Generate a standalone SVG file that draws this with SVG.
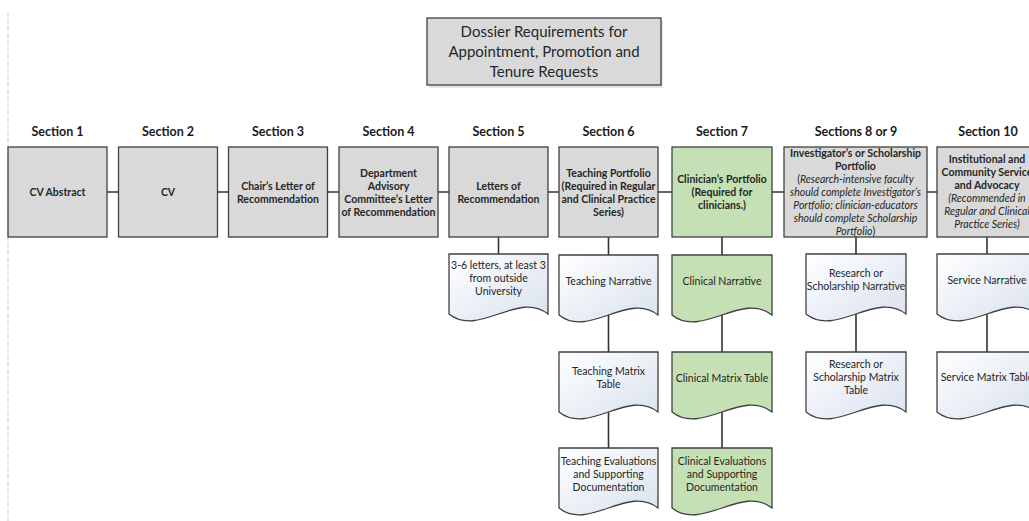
<svg xmlns="http://www.w3.org/2000/svg" width="1029" height="521" viewBox="0 0 1029 521">
<defs>
<linearGradient id="docg" x1="0" y1="0" x2="1" y2="1">
<stop offset="0" stop-color="#ffffff"/>
<stop offset="1" stop-color="#d9e1ee"/>
</linearGradient>
<style>
.box{fill:#d9d9d9;stroke:#404040;stroke-width:1.3}
.green{fill:#c5e0b4;stroke:#404040;stroke-width:1.3}
.doc{fill:url(#docg);stroke:#404040;stroke-width:1.3}
.gdoc{fill:#c5e0b4;stroke:#404040;stroke-width:1.3}
.shadow{fill:#dfe7f2}
.conn{stroke:#333333;stroke-width:1.6;fill:none}
.sec{font-family:Lato,"Liberation Sans",sans-serif;font-size:12.5px;font-weight:bold;fill:#1a1a1a;text-anchor:middle}
.bt{font-family:Lato,"Liberation Sans",sans-serif;font-size:10.5px;font-weight:bold;fill:#262626;text-anchor:middle}
.it{font-family:Lato,"Liberation Sans",sans-serif;font-size:10.5px;font-style:italic;fill:#262626;text-anchor:middle}
.dt{font-family:Lato,"Liberation Sans",sans-serif;font-size:10.5px;fill:#262626;text-anchor:middle}
.tt{font-family:Lato,"Liberation Sans",sans-serif;font-size:15px;fill:#262626;text-anchor:middle}
</style>
</defs>
<rect width="1029" height="521" fill="#ffffff"/>
<line x1="8" y1="12" x2="8" y2="521" stroke="#cfcfcf" stroke-width="1" stroke-dasharray="5 2"/>

<g id="connectors">
<line class="conn" x1="107" y1="192" x2="937" y2="192"/>
<line class="conn" x1="498.5" y1="237" x2="498.5" y2="254"/>
<line class="conn" x1="608.5" y1="237" x2="608.5" y2="448"/>
<line class="conn" x1="722" y1="237" x2="722" y2="448"/>
<line class="conn" x1="856" y1="237" x2="856" y2="352"/>
<line class="conn" x1="987" y1="237" x2="987" y2="352"/>
</g>

<g id="title">
<rect class="shadow" x="429" y="21" width="234" height="67"/>
<rect class="box" x="427" y="18" width="234" height="67"/>
<text class="tt" x="544" y="37">Dossier Requirements for</text>
<text class="tt" x="544" y="57">Appointment, Promotion and</text>
<text class="tt" x="544" y="77">Tenure Requests</text>
</g>

<g id="labels">
<text class="sec" x="57.5" y="135.5">Section 1</text>
<text class="sec" x="168" y="135.5">Section 2</text>
<text class="sec" x="278" y="135.5">Section 3</text>
<text class="sec" x="388.5" y="135.5">Section 4</text>
<text class="sec" x="498.5" y="135.5">Section 5</text>
<text class="sec" x="608.5" y="135.5">Section 6</text>
<text class="sec" x="722" y="135.5">Section 7</text>
<text class="sec" x="856" y="135.5">Sections 8 or 9</text>
<text class="sec" x="988" y="135.5">Section 10</text>
</g>

<g id="s1">
<rect class="box" x="8" y="147" width="99" height="90"/>
<text class="bt" x="57.5" y="196">CV Abstract</text>
</g>
<g id="s2">
<rect class="box" x="118.5" y="147" width="99" height="90"/>
<text class="bt" x="168" y="196">CV</text>
</g>
<g id="s3">
<rect class="box" x="228.5" y="147" width="99" height="90"/>
<text class="bt" x="278" y="189.5">Chair’s Letter of</text>
<text class="bt" x="278" y="202.5">Recommendation</text>
</g>
<g id="s4">
<rect class="box" x="339" y="147" width="99" height="90"/>
<text class="bt" x="388.5" y="176.5">Department</text>
<text class="bt" x="388.5" y="189.5">Advisory</text>
<text class="bt" x="388.5" y="202.5">Committee’s Letter</text>
<text class="bt" x="388.5" y="215.5">of Recommendation</text>
</g>
<g id="s5">
<rect class="box" x="449" y="147" width="99" height="90"/>
<text class="bt" x="498.5" y="189.5">Letters of</text>
<text class="bt" x="498.5" y="202.5">Recommendation</text>
</g>
<g id="s6">
<rect class="box" x="559" y="147" width="99" height="90"/>
<text class="bt" x="608.5" y="176.5">Teaching Portfolio</text>
<text class="bt" x="608.5" y="189.5">(Required in Regular</text>
<text class="bt" x="608.5" y="202.5">and Clinical Practice</text>
<text class="bt" x="608.5" y="215.5">Series)</text>
</g>
<g id="s7">
<rect class="green" x="672" y="147" width="100" height="90"/>
<text class="bt" x="722" y="183">Clinician’s Portfolio</text>
<text class="bt" x="722" y="196">(Required for</text>
<text class="bt" x="722" y="209">clinicians.)</text>
</g>
<g id="s89">
<rect class="box" x="784" y="147" width="143" height="90"/>
<text class="bt" x="855.5" y="157">Investigator’s or Scholarship</text>
<text class="bt" x="855.5" y="170">Portfolio</text>
<text class="dt" x="855.5" y="183">(<tspan font-style="italic">Research-intensive faculty</tspan></text>
<text class="it" x="855.5" y="196">should complete Investigator’s</text>
<text class="it" x="855.5" y="209">Portfolio; clinician-educators</text>
<text class="it" x="855.5" y="222">should complete Scholarship</text>
<text class="dt" x="855.5" y="235"><tspan font-style="italic">Portfolio</tspan>)</text>
</g>
<g id="s10">
<rect class="box" x="937" y="147" width="100" height="90"/>
<text class="bt" x="987" y="162.5">Institutional and</text>
<text class="bt" x="987" y="175.5">Community Service</text>
<text class="bt" x="987" y="188.5">and Advocacy</text>
<text class="it" x="987" y="201.5">(Recommended in</text>
<text class="it" x="987" y="214.5">Regular and Clinical</text>
<text class="it" x="987" y="227.5">Practice Series)</text>
</g>

<g id="d5">
<path class="doc" d="M449,254 H548 V314 C518.3,290 478.7,338 449,314 Z"/>
<text class="dt" x="498.5" y="269">3-6 letters, at least 3</text>
<text class="dt" x="498.5" y="282">from outside</text>
<text class="dt" x="498.5" y="295">University</text>
</g>

<g id="d6a">
<path class="doc" d="M559,255 H658 V315 C628.3,291 588.7,339 559,315 Z"/>
<text class="dt" x="608.5" y="284.5">Teaching Narrative</text>
</g>
<g id="d6b">
<path class="doc" d="M559,352 H658 V412 C628.3,388 588.7,436 559,412 Z"/>
<text class="dt" x="608.5" y="375">Teaching Matrix</text>
<text class="dt" x="608.5" y="388">Table</text>
</g>
<g id="d6c">
<path class="doc" d="M559,448 H658 V508 C628.3,484 588.7,532 559,508 Z"/>
<text class="dt" x="608.5" y="465">Teaching Evaluations</text>
<text class="dt" x="608.5" y="478">and Supporting</text>
<text class="dt" x="608.5" y="491">Documentation</text>
</g>

<g id="d7a">
<path class="gdoc" d="M672,255 H772 V315 C742,291 702,339 672,315 Z"/>
<text class="dt" x="722" y="284.5">Clinical Narrative</text>
</g>
<g id="d7b">
<path class="gdoc" d="M672,352 H772 V412 C742,388 702,436 672,412 Z"/>
<text class="dt" x="722" y="381.5">Clinical Matrix Table</text>
</g>
<g id="d7c">
<path class="gdoc" d="M672,448 H772 V508 C742,484 702,532 672,508 Z"/>
<text class="dt" x="722" y="465">Clinical Evaluations</text>
<text class="dt" x="722" y="478">and Supporting</text>
<text class="dt" x="722" y="491">Documentation</text>
</g>

<g id="d89a">
<path class="doc" d="M806,254 H906 V314 C876,290 836,338 806,314 Z"/>
<text class="dt" x="856" y="277">Research or</text>
<text class="dt" x="856" y="290">Scholarship Narrative</text>
</g>
<g id="d89b">
<path class="doc" d="M806,352 H906 V412 C876,388 836,436 806,412 Z"/>
<text class="dt" x="856" y="368">Research or</text>
<text class="dt" x="856" y="381">Scholarship Matrix</text>
<text class="dt" x="856" y="394">Table</text>
</g>

<g id="d10a">
<path class="doc" d="M937,254 H1037 V314 C1007,290 967,338 937,314 Z"/>
<text class="dt" x="987" y="284">Service Narrative</text>
</g>
<g id="d10b">
<path class="doc" d="M937,352 H1037 V412 C1007,388 967,436 937,412 Z"/>
<text class="dt" x="987" y="381">Service Matrix Table</text>
</g>
</svg>
